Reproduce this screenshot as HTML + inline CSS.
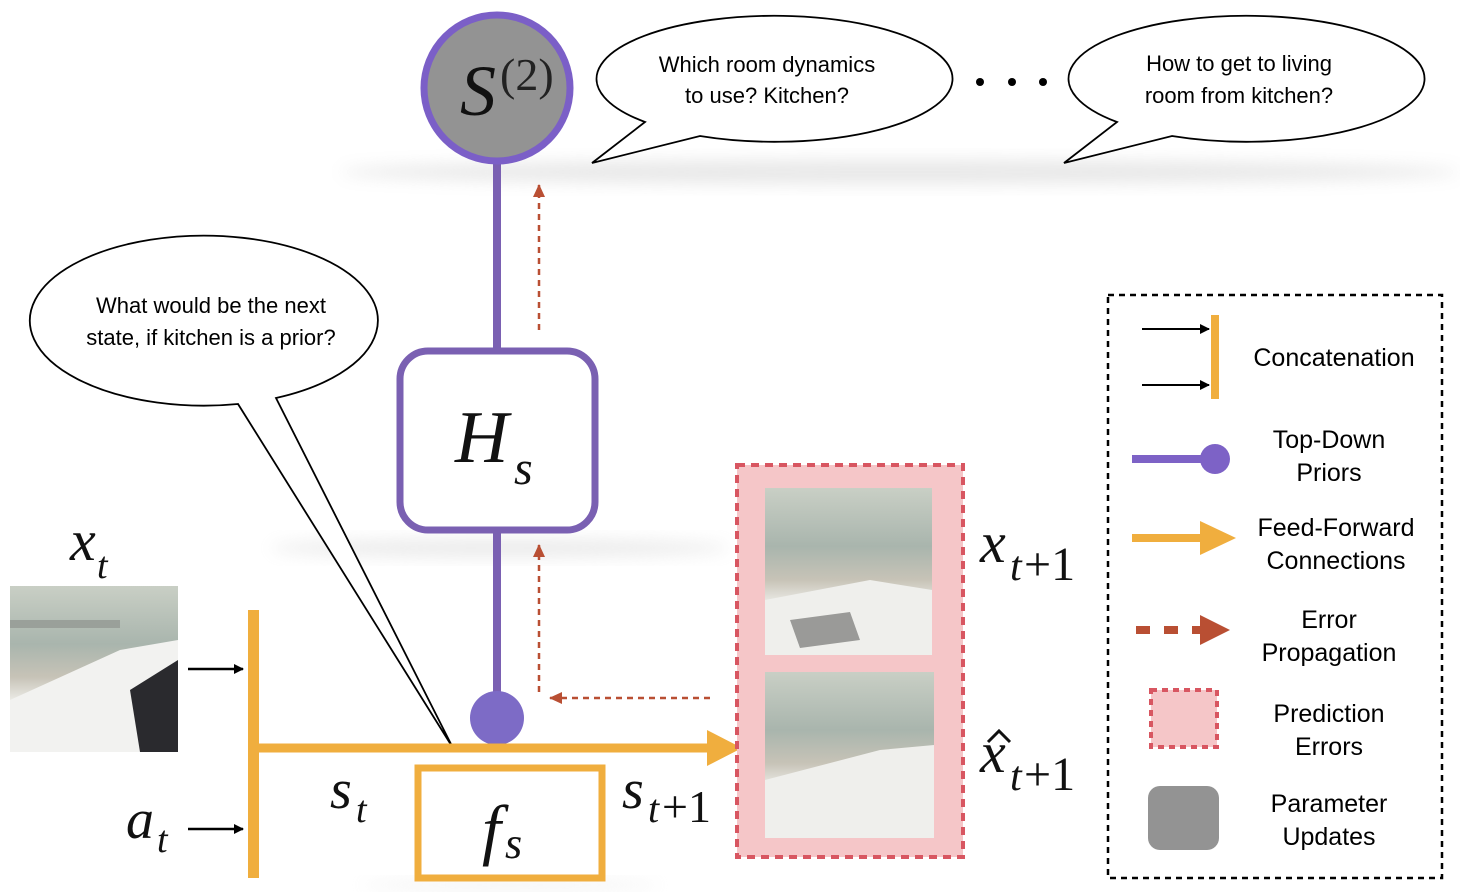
<!DOCTYPE html>
<html><head><meta charset="utf-8"><style>
html,body{margin:0;padding:0;background:#fff;}
svg{display:block;}
.sans{font-family:"Liberation Sans",sans-serif;}
.serif{font-family:"Liberation Serif",serif;font-style:italic;fill:#111;}
</style></head><body>
<svg width="1460" height="892" viewBox="0 0 1460 892" xmlns="http://www.w3.org/2000/svg">
<defs>
<filter id="blur" x="-50%" y="-50%" width="200%" height="200%"><feGaussianBlur stdDeviation="8"/></filter>
<linearGradient id="kit" x1="0" y1="0" x2="0" y2="1">
<stop offset="0" stop-color="#c9cfc5"/><stop offset="0.35" stop-color="#a9b5ad"/><stop offset="0.55" stop-color="#c7c3b7"/><stop offset="0.7" stop-color="#eeeeea"/><stop offset="1" stop-color="#dcdcd8"/></linearGradient>
<marker id="ah" markerWidth="10" markerHeight="10" refX="9" refY="5" orient="auto" markerUnits="userSpaceOnUse"><path d="M0,0 L10,5 L0,10 z" fill="#000"/></marker>
<marker id="rh" markerWidth="14" markerHeight="14" refX="12" refY="7" orient="auto" markerUnits="userSpaceOnUse"><path d="M0,1 L13,7 L0,13 z" fill="#b94f33"/></marker>
</defs>

<!-- shadows -->
<ellipse cx="900" cy="172" rx="560" ry="12" fill="#ccc" filter="url(#blur)" opacity="0.45"/>
<ellipse cx="500" cy="548" rx="230" ry="9" fill="#ccc" filter="url(#blur)" opacity="0.4"/>
<ellipse cx="510" cy="885" rx="150" ry="5" fill="#ddd" filter="url(#blur)" opacity="0.4"/>

<!-- purple line -->
<line x1="497" y1="160" x2="497" y2="350" stroke="#7a60b2" stroke-width="8"/>
<line x1="497" y1="530" x2="497" y2="700" stroke="#7a60b2" stroke-width="8"/>
<ellipse cx="497" cy="718" rx="27" ry="27" fill="#7d6bc6"/>

<!-- S circle -->
<circle cx="497" cy="88" r="73" fill="#939393" stroke="#7b5fc7" stroke-width="7"/>
<text x="460" y="115" class="serif" font-size="72">S</text>
<text x="500" y="90" font-family="Liberation Serif,serif" font-size="46" fill="#222">(2)</text>

<!-- Hs box -->
<rect x="400" y="351" width="195" height="179" rx="28" fill="#fff" stroke="#7a60b2" stroke-width="7"/>
<text x="455" y="462" class="serif" font-size="74">H</text>
<text x="514" y="484" class="serif" font-size="48">s</text>

<!-- red dashed arrows -->
<line x1="539" y1="330" x2="539" y2="185" stroke="#b94f33" stroke-width="2.5" stroke-dasharray="6,5" marker-end="url(#rh)"/>
<line x1="539" y1="692" x2="539" y2="545" stroke="#b94f33" stroke-width="2.5" stroke-dasharray="6,5" marker-end="url(#rh)"/>
<line x1="710" y1="698" x2="550" y2="698" stroke="#b94f33" stroke-width="2.5" stroke-dasharray="6,5" marker-end="url(#rh)"/>

<!-- speech bubbles -->
<path d="M645,122 A178,63 0 1,1 700,136 L592,163 Z" fill="#fff" stroke="#000" stroke-width="1.8"/>
<text x="767" y="72" class="sans" font-size="22" text-anchor="middle">Which room dynamics</text>
<text x="767" y="103" class="sans" font-size="22" text-anchor="middle">to use? Kitchen?</text>
<path d="M1117,122 A178,63 0 1,1 1172,136 L1064,163 Z" fill="#fff" stroke="#000" stroke-width="1.8"/>
<text x="1239" y="71" class="sans" font-size="22" text-anchor="middle">How to get to living</text>
<text x="1239" y="103" class="sans" font-size="22" text-anchor="middle">room from kitchen?</text>
<circle cx="980" cy="82" r="4" fill="#000"/><circle cx="1012" cy="82" r="4" fill="#000"/><circle cx="1043" cy="82" r="4" fill="#000"/>

<path d="M238,404 A174,85 0 1,1 276,398 L453,748 Z" fill="#fff" stroke="#000" stroke-width="1.8"/>
<text x="211" y="313" class="sans" font-size="22" text-anchor="middle">What would be the next</text>
<text x="211" y="345" class="sans" font-size="22" text-anchor="middle">state, if kitchen is a prior?</text>

<!-- x_t image -->
<rect x="10" y="586" width="168" height="166" fill="url(#kit)"/>
<path d="M10,700 L120,650 L178,640 L178,752 L10,752 Z" fill="#f2f2f0"/>
<path d="M130,690 L178,660 L178,752 L140,752 Z" fill="#2a2a2e"/>
<rect x="10" y="620" width="110" height="8" fill="#9aa09a"/>
<text x="70" y="560" class="serif" font-size="58">x</text>
<text x="97" y="578" class="serif" font-size="38">t</text>

<!-- orange -->
<rect x="248" y="610" width="11" height="268" fill="#f0ae3e"/>
<line x1="253" y1="748" x2="712" y2="748" stroke="#f0ae3e" stroke-width="9"/>
<path d="M707,730 L742,748 L707,766 Z" fill="#f0ae3e"/>
<rect x="418" y="768" width="184" height="110" fill="#fff" stroke="#f0ae3e" stroke-width="7"/>
<text x="482" y="852" class="serif" font-size="68">f</text>
<text x="505" y="858" class="serif" font-size="44">s</text>

<line x1="188" y1="669" x2="243" y2="669" stroke="#000" stroke-width="2.5" marker-end="url(#ah)"/>
<line x1="188" y1="829" x2="243" y2="829" stroke="#000" stroke-width="2.5" marker-end="url(#ah)"/>
<text x="126" y="838" class="serif" font-size="56">a</text>
<text x="157" y="852" class="serif" font-size="38">t</text>
<text x="330" y="808" class="serif" font-size="56">s</text>
<text x="356" y="822" class="serif" font-size="38">t</text>
<text x="622" y="808" class="serif" font-size="56">s</text>
<text x="648" y="822" class="serif" font-size="40">t</text>
<text x="662" y="822" font-family="Liberation Serif,serif" font-size="46" fill="#111">+1</text>

<!-- prediction error box -->
<rect x="737" y="465" width="226" height="392" fill="#f5c6c8" stroke="#d85661" stroke-width="4" stroke-dasharray="8,6"/>
<rect x="765" y="488" width="167" height="167" fill="url(#kit)"/>
<path d="M765,600 L870,580 L932,590 L932,655 L765,655 Z" fill="#efefec"/>
<path d="M790,620 L850,612 L860,640 L800,648 Z" fill="#9a9a98"/>
<rect x="765" y="672" width="169" height="166" fill="url(#kit)"/>
<path d="M765,780 L880,750 L934,745 L934,838 L765,838 Z" fill="#efefec"/>
<text x="980" y="562" class="serif" font-size="58">x</text>
<text x="1010" y="580" class="serif" font-size="42">t</text>
<text x="1024" y="580" font-family="Liberation Serif,serif" font-size="48" fill="#111">+1</text>
<text x="980" y="772" class="serif" font-size="58">x</text>
<path d="M988,742 L999,731 L1010,742" fill="none" stroke="#111" stroke-width="3"/>
<text x="1010" y="790" class="serif" font-size="42">t</text>
<text x="1024" y="790" font-family="Liberation Serif,serif" font-size="48" fill="#111">+1</text>

<!-- legend -->
<rect x="1108" y="295" width="334" height="583" fill="none" stroke="#000" stroke-width="2.5" stroke-dasharray="6,5"/>
<line x1="1142" y1="329" x2="1209" y2="329" stroke="#000" stroke-width="2" marker-end="url(#ah)"/>
<line x1="1142" y1="385" x2="1209" y2="385" stroke="#000" stroke-width="2" marker-end="url(#ah)"/>
<rect x="1211" y="315" width="8" height="84" fill="#f0ae3e"/>
<text x="1334" y="366" class="sans" font-size="25" text-anchor="middle">Concatenation</text>
<line x1="1132" y1="459" x2="1215" y2="459" stroke="#7d62c6" stroke-width="8"/>
<circle cx="1215" cy="459" r="15" fill="#7d62c6"/>
<text x="1329" y="448" class="sans" font-size="25" text-anchor="middle">Top-Down</text>
<text x="1329" y="481" class="sans" font-size="25" text-anchor="middle">Priors</text>
<line x1="1132" y1="538" x2="1205" y2="538" stroke="#f0ae3e" stroke-width="8"/>
<path d="M1200,521 L1236,538 L1200,555 Z" fill="#f0ae3e"/>
<text x="1336" y="536" class="sans" font-size="25" text-anchor="middle">Feed-Forward</text>
<text x="1336" y="569" class="sans" font-size="25" text-anchor="middle">Connections</text>
<line x1="1136" y1="630" x2="1205" y2="630" stroke="#b94f33" stroke-width="8" stroke-dasharray="14,14"/>
<path d="M1200,615 L1230,630 L1200,645 Z" fill="#b94f33"/>
<text x="1329" y="628" class="sans" font-size="25" text-anchor="middle">Error</text>
<text x="1329" y="661" class="sans" font-size="25" text-anchor="middle">Propagation</text>
<rect x="1151" y="690" width="66" height="57" fill="#f5c6c8" stroke="#d85661" stroke-width="4" stroke-dasharray="6,5"/>
<text x="1329" y="722" class="sans" font-size="25" text-anchor="middle">Prediction</text>
<text x="1329" y="755" class="sans" font-size="25" text-anchor="middle">Errors</text>
<rect x="1148" y="786" width="71" height="64" rx="12" fill="#939393"/>
<text x="1329" y="812" class="sans" font-size="25" text-anchor="middle">Parameter</text>
<text x="1329" y="845" class="sans" font-size="25" text-anchor="middle">Updates</text>
</svg>
</body></html>
